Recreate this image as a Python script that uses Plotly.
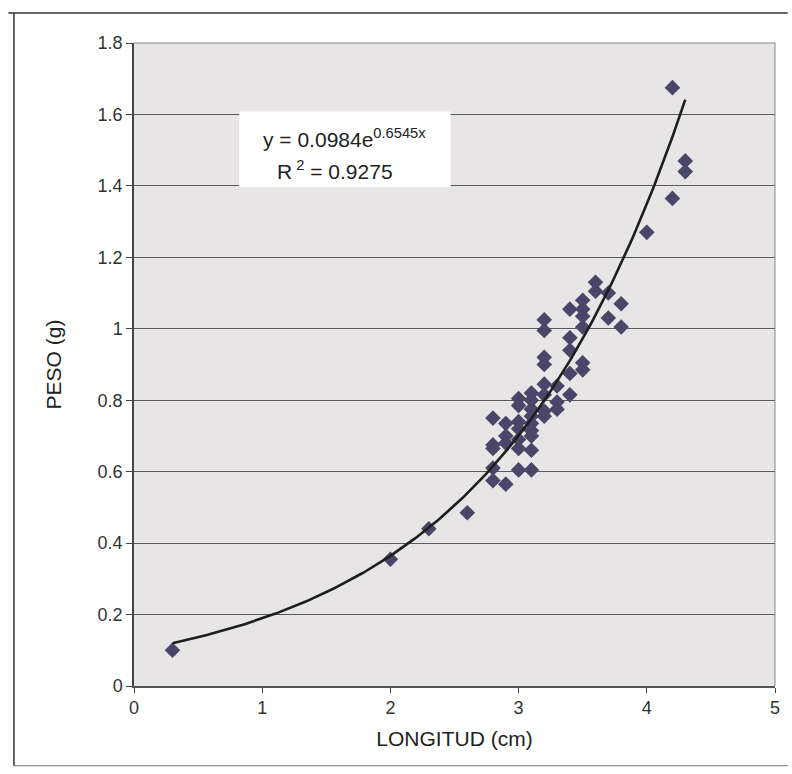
import numpy as np
import plotly.graph_objects as go

# Length (cm) and weight (g) of each measured specimen
longitud = [0.3, 2.0, 2.3, 2.6,
            2.8, 2.8, 2.8, 2.8, 2.8,
            2.9, 2.9, 2.9, 2.9,
            3.0, 3.0, 3.0, 3.0, 3.0, 3.0, 3.0,
            3.1, 3.1, 3.1, 3.1, 3.1, 3.1, 3.1, 3.1, 3.1,
            3.2, 3.2, 3.2, 3.2, 3.2, 3.2, 3.2, 3.2,
            3.3, 3.3, 3.3,
            3.4, 3.4, 3.4, 3.4, 3.4,
            3.5, 3.5, 3.5, 3.5, 3.5, 3.5,
            3.6, 3.6,
            3.7, 3.7,
            3.8, 3.8,
            4.0,
            4.2, 4.2,
            4.3, 4.3]
peso = [0.10, 0.355, 0.44, 0.485,
        0.75, 0.675, 0.665, 0.61, 0.575,
        0.735, 0.70, 0.68, 0.565,
        0.805, 0.785, 0.74, 0.72, 0.69, 0.665, 0.605,
        0.82, 0.80, 0.775, 0.755, 0.735, 0.715, 0.70, 0.66, 0.605,
        1.025, 0.995, 0.92, 0.90, 0.845, 0.815, 0.77, 0.755,
        0.84, 0.795, 0.775,
        1.055, 0.975, 0.94, 0.875, 0.815,
        1.08, 1.055, 1.035, 1.005, 0.905, 0.885,
        1.13, 1.105,
        1.10, 1.03,
        1.07, 1.005,
        1.27,
        1.675, 1.365,
        1.47, 1.44]

# Exponential trend line y = a * e^(b x)
fit_a = 0.0984
fit_b = 0.6545
fit_r2 = 0.9275
fit_range = [0.3, 4.3]

x_ticks = [0, 1, 2, 3, 4, 5]
y_ticks = [0, 0.2, 0.4, 0.6, 0.8, 1, 1.2, 1.4, 1.6, 1.8]

xf = np.linspace(fit_range[0], fit_range[1], 200)
yf = fit_a * np.exp(fit_b * xf)

fig = go.Figure()
fig.add_trace(go.Scatter(
    x=longitud, y=peso, mode="markers",
    marker=dict(symbol="diamond", size=12, color="#4a4669",
                line=dict(width=0)),
    showlegend=False, hoverinfo="x+y"))
fig.add_trace(go.Scatter(
    x=xf, y=yf, mode="lines",
    line=dict(color="#1e1e1e", width=2.6),
    showlegend=False, hoverinfo="skip"))

# Equation box
fig.add_shape(type="rect", xref="x", yref="y",
              x0=0.82, x1=2.47, y0=1.397, y1=1.608,
              fillcolor="white", line=dict(width=0), layer="above")
fig.add_annotation(xref="x", yref="y", x=1.64, y=1.535,
                   text=f"y = {fit_a}e<sup>{fit_b}x</sup>",
                   showarrow=False, font=dict(size=21, color="#222"))
fig.add_annotation(xref="x", yref="y", x=1.57, y=1.445,
                   text=f"R<sup> 2</sup> = {fit_r2}",
                   showarrow=False, font=dict(size=21, color="#222"))

# Page frame around the chart
frame = dict(color="#333", width=1.5)
fig.add_shape(type="line", xref="paper", yref="paper",
              x0=-0.196, x1=1.02, y0=1.0467, y1=1.0467, line=frame)
fig.add_shape(type="line", xref="paper", yref="paper",
              x0=-0.1873, x1=-0.1873, y0=1.0467, y1=-0.124, line=frame)
fig.add_shape(type="line", xref="paper", yref="paper",
              x0=-0.1873, x1=1.02, y0=-0.124, y1=-0.124,
              line=dict(color="#777", width=1.2))

fig.update_layout(
    width=792, height=774,
    margin=dict(l=134, r=12, t=43, b=88),
    paper_bgcolor="white",
    plot_bgcolor="#e7e5e5",
    font=dict(family="Liberation Sans, Arial, sans-serif", color="#333"),
    xaxis=dict(range=[0, 5], tickvals=x_ticks, ticks="outside", ticklen=5,
               tickcolor="#444", showgrid=False, zeroline=False,
               showline=True, linecolor="#555", linewidth=1.5, mirror=False,
               tickfont=dict(size=18, color="#333"),
               title=dict(text="LONGITUD (cm)", font=dict(size=21, color="#222"),
                          standoff=14)),
    yaxis=dict(range=[0, 1.8], tickvals=y_ticks, ticks="outside", ticklen=6,
               tickcolor="#444", showgrid=True, gridcolor="#5a5a5a",
               gridwidth=1.4, zeroline=False,
               showline=True, linecolor="#444", linewidth=1.5,
               tickfont=dict(size=18, color="#333"),
               title=dict(text="PESO (g)", font=dict(size=21, color="#222"),
                          standoff=30)),
)
# Thin border on the top and right sides of the plot area
fig.add_shape(type="line", xref="paper", yref="paper", x0=0, x1=1, y0=1, y1=1,
              line=dict(color="#888", width=1))
fig.add_shape(type="line", xref="paper", yref="paper", x0=1, x1=1, y0=0, y1=1,
              line=dict(color="#888", width=1))

fig.write_html("out.html")
